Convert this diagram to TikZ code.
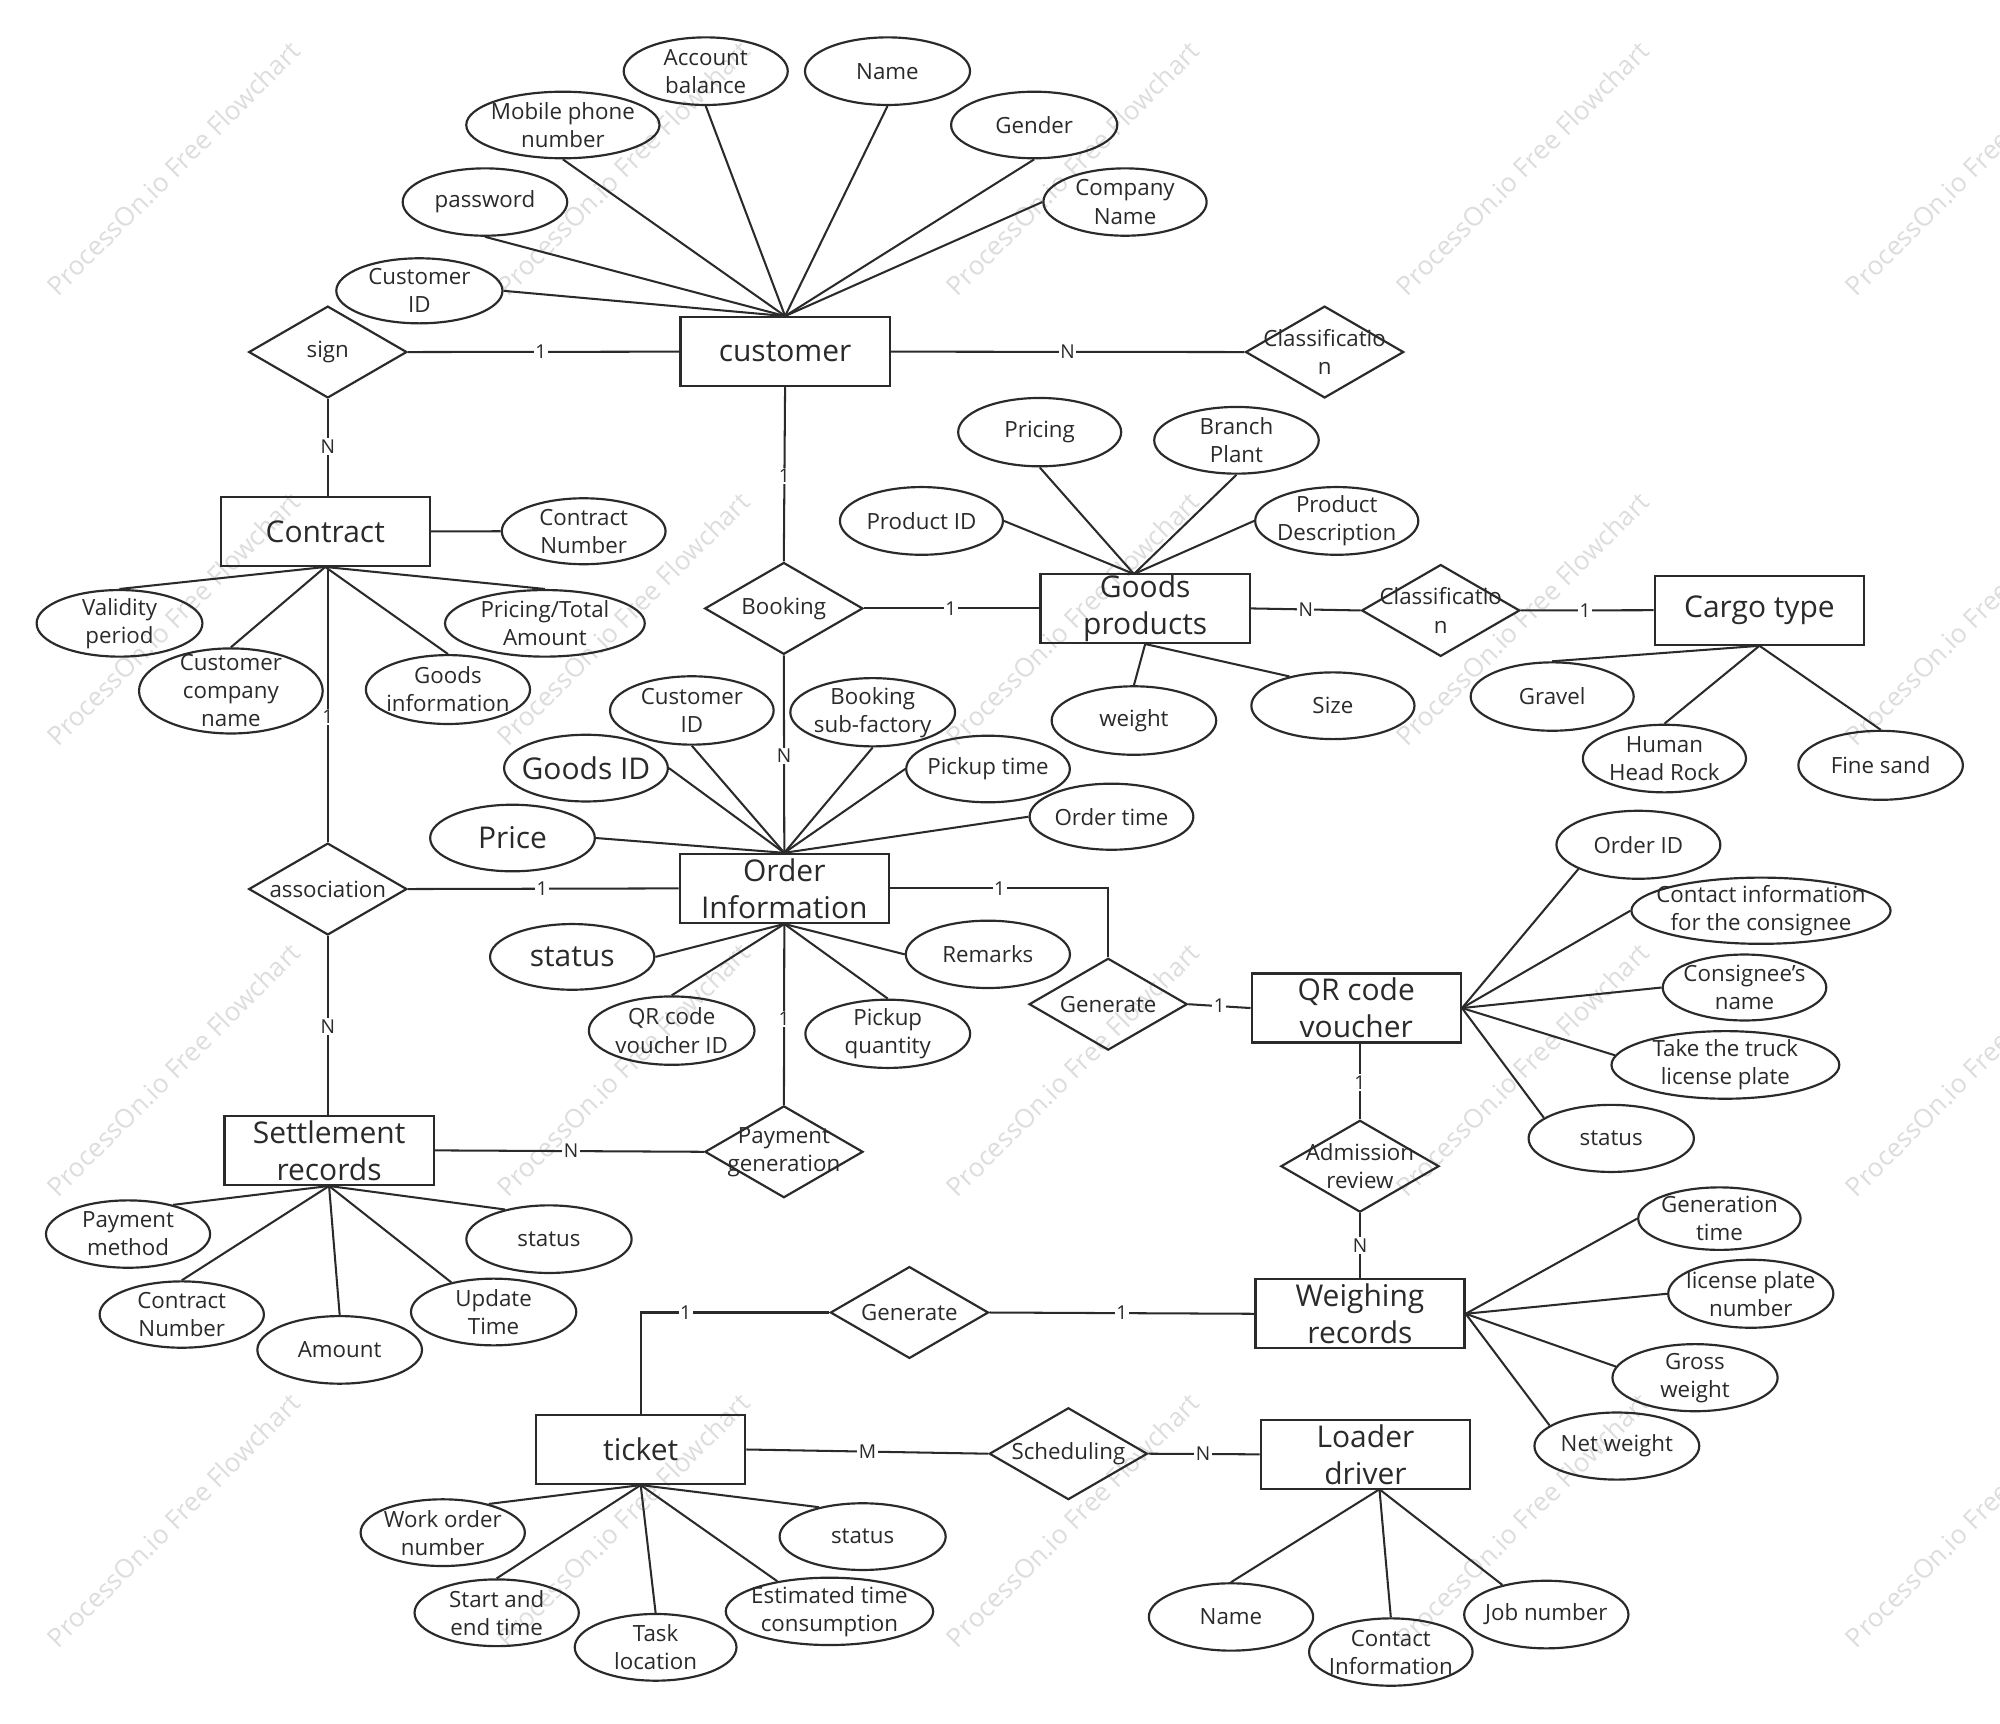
\documentclass[tikz,border=0pt]{standalone}
\usepackage{fontspec}
\setmainfont{Open Sans}
\usetikzlibrary{shapes.geometric}
\definecolor{ink}{HTML}{2A2A2A}
\definecolor{wm}{HTML}{DDDDDD}
\newcommand{\ftbig}{\fontsize{23.5}{29}\selectfont}
\newcommand{\mkattr}[5]{%
  \node[attrshape, minimum width=#3pt, minimum height=#4pt] (#1) at (#2) {};
  \node[attrtext] at (#1.center) {#5};}
\newcommand{\mkent}[3]{%
  \node[entshape] (#1) at (#2) {};
  \node[enttext] at (#1.center) {#3};}
\newcommand{\mkrel}[3]{%
  \node[relshape] (#1) at (#2) {};
  \node[attrtext] at (#1.center) {#3};}
\begin{document}
\begin{tikzpicture}[x=1pt,y=-1pt,
  attrshape/.style={ellipse, draw=ink, line width=1.7pt, inner sep=0pt},
  entshape/.style={rectangle, draw=ink, line width=1.8pt, minimum width=164pt, minimum height=54pt, inner sep=0pt},
  relshape/.style={diamond, draw=ink, line width=1.7pt, minimum width=124pt, minimum height=72pt, inner sep=0pt},
  attrtext/.style={text=ink, align=center, inner sep=0pt, font=\fontsize{17.5}{22}\selectfont},
  enttext/.style={text=ink, align=center, inner sep=0pt, font=\fontsize{23.5}{29}\selectfont},
  lbl/.style={fill=white, text=ink, inner sep=1.2pt, font=\fontsize{15}{17}\selectfont},
  con/.style={draw=ink, line width=1.6pt},
  wmstyle/.style={text=wm, font=\fontsize{20.5}{22}\selectfont, rotate=45, inner sep=0pt}]
\useasboundingbox (0,0) rectangle (1568,1351);
\fill[white] (0,0) rectangle (1568,1351);
% watermark
\foreach \i in {0,...,4}{
  \foreach \j in {0,...,3}{
    \node[wmstyle] (wm\i\j) at ({136+352.5*\i},{132+353.3*\j}) {ProcessOn.io Free Flowchart};
  }
}
% entities
\mkent{cust}{615.5,275.7}{customer}
\mkent{contract}{255,416.6}{Contract}
\mkent{goods}{897.8,477}{Goods\\products}
\mkent{cargo}{1379.4,478.4}{Cargo type}
\mkent{order}{614.9,696.5}{Order\\Information}
\mkent{qr}{1063.3,790.3}{QR code\\voucher}
\mkent{weigh}{1066.2,1030}{Weighing\\records}
\mkent{settle}{258,901.9}{Settlement\\records}
\mkent{ticket}{502.3,1136.4}{ticket}
\mkent{loader}{1070.5,1140.2}{Loader\\driver}
% relationships
\mkrel{sign}{257,276}{sign}
\mkrel{classA}{1038.5,276}{Classificatio\\n}
\mkrel{booking}{614.5,477}{Booking}
\mkrel{classB}{1129.5,478.6}{Classificatio\\n}
\mkrel{assoc}{257,697}{association}
\mkrel{genA}{868.8,787.3}{Generate}
\mkrel{adm}{1066.2,914.3}{Admission\\review}
\mkrel{paygen}{614.6,903}{Payment\\generation}
\mkrel{genB}{713,1029}{Generate}
\mkrel{sched}{837.6,1139.7}{Scheduling}
% customer attributes
\mkattr{aAcct}{553.3,55.8}{128.6}{53}{Account\\balance}
\mkattr{aName}{695.8,55.8}{129.4}{53}{Name}
\mkattr{aMobile}{441.3,98}{151.5}{52.2}{Mobile phone\\number}
\mkattr{aGender}{810.8,98}{130.3}{52.2}{Gender}
\mkattr{aPwd}{380.2,158.4}{129}{52.8}{password}
\mkattr{aComp}{882,158.4}{128}{52.8}{Company\\Name}
\mkattr{aCid}{328.8,228}{130.3}{51}{Customer\\ID}
% contract attributes
\mkattr{cNum}{457.6,416.5}{128.4}{51.7}{Contract\\Number}
\mkattr{cValid}{93.7,488.7}{130}{52.2}{Validity\\period}
\mkattr{cCcn}{181,541.7}{144}{66.7}{Customer\\company\\name}
\mkattr{cGoods}{351.2,540.6}{128.7}{54}{Goods\\information}
\mkattr{cPrice}{427.2,488.7}{156.6}{52.2}{Pricing/Total\\Amount}
% goods attributes
\mkattr{gPricing}{815.1,338.8}{127.8}{53.6}{Pricing}
\mkattr{gBranch}{969.4,345.2}{129}{52.3}{Branch\\Plant}
\mkattr{gPid}{722.4,408.4}{127.8}{53.1}{Product ID}
\mkattr{gDesc}{1048,408.4}{127.9}{53.1}{Product\\Description}
\mkattr{gWeight}{889,564.9}{129}{53.7}{weight}
\mkattr{gSize}{1045,553.3}{127.9}{52.3}{Size}
% cargo attributes
\mkattr{tGravel}{1216.9,546.1}{127.8}{53.6}{Gravel}
\mkattr{tHuman}{1304.9,594.7}{127.9}{53}{Human\\Head Rock}
\mkattr{tFine}{1474.4,600}{129}{54.1}{Fine sand}
% order attributes
\mkattr{oCid}{542.4,557}{128.3}{53.6}{Customer\\ID}
\mkattr{oBook}{684.2,558.4}{129.2}{53.5}{Booking\\sub-factory}
\mkattr{oGid}{459.4,602.2}{128.4}{52.3}{\ftbig Goods ID}
\mkattr{oPick}{774.6,602.9}{128.3}{52.2}{Pickup time}
\mkattr{oPrice}{401.8,657}{129.1}{52.2}{\ftbig Price}
\mkattr{oOtime}{871.4,640.3}{128.4}{51.8}{Order time}
\mkattr{oStatus}{448.6,750.2}{128.8}{51.5}{\ftbig status}
\mkattr{oRem}{774.5,748.2}{128.7}{52.8}{Remarks}
\mkattr{oQrid}{526.6,808}{129.9}{53.6}{QR code\\voucher ID}
\mkattr{oPqty}{696,810.5}{129.2}{53.5}{Pickup\\quantity}
% QR attributes
\mkattr{qOid}{1284.5,662.3}{128.5}{53.3}{Order ID}
\mkattr{qContact}{1380.6,714}{203.2}{51.9}{Contact information\\for the consignee}
\mkattr{qCname}{1367.7,774.2}{128.2}{51.7}{Consignee's\\name}
\mkattr{qTruck}{1352.7,834.9}{178.6}{53}{Take the truck\\license plate}
\mkattr{qStatus}{1263.2,892.5}{129.6}{52.6}{status}
% weighing attributes
\mkattr{wGen}{1348,955.4}{127.3}{49}{Generation\\time}
\mkattr{wLic}{1372.6,1014.3}{129.5}{53.3}{license plate\\number}
\mkattr{wGross}{1328.9,1080.1}{129.5}{52.6}{Gross\\weight}
\mkattr{wNet}{1267.6,1133.7}{129.2}{52.6}{Net weight}
% settlement attributes
\mkattr{sPay}{100.4,967.5}{128.7}{52.8}{Payment\\method}
\mkattr{sCnum}{142.5,1030.6}{128.8}{52}{Contract\\Number}
\mkattr{sAmt}{266.3,1058.3}{129.1}{53}{Amount}
\mkattr{sUpd}{387,1028.6}{129.6}{52.3}{Update\\Time}
\mkattr{sStatus}{430.4,971.5}{129.6}{53}{status}
% ticket attributes
\mkattr{kWork}{347.1,1201.6}{128.8}{52.3}{Work order\\number}
\mkattr{kStart}{389.4,1264.4}{128.8}{52.3}{Start and\\end time}
\mkattr{kTask}{514,1291.5}{126.8}{52.3}{Task\\location}
\mkattr{kEst}{650.3,1263.3}{162.6}{52.8}{Estimated time\\consumption}
\mkattr{kStatus}{676.3,1204.7}{130.2}{52.3}{status}
% loader attributes
\mkattr{dName}{965.1,1267.7}{128.8}{52.8}{Name}
\mkattr{dContact}{1090.4,1295.2}{128.2}{52.8}{Contact\\Information}
\mkattr{dJob}{1212.3,1265.8}{128.8}{53}{Job number}
% helper coordinates
\coordinate (goodsTop) at (889,450);
\coordinate (loaderBot) at (1081.5,1167.6);
% relationship connectors
\draw[con] (sign.east) -- (cust.west) node[lbl, pos=0.49] {1};
\draw[con] (cust.east) -- (classA.west) node[lbl, pos=0.5] {N};
\draw[con] (sign.south) -- (sign.south |- contract.north) node[lbl, pos=0.49] {N};
\draw[con] (cust.south) -- (booking.north) node[lbl, pos=0.51] {1};
\draw[con] (assoc.north |- contract.south) -- (assoc.north) node[lbl, pos=0.545] {1};
\draw[con] (booking.east) -- (goods.west) node[lbl, pos=0.495] {1};
\draw[con] (booking.south) -- (order.north) node[lbl, pos=0.51] {N};
\draw[con] (goods.east) -- (classB.west) node[lbl, pos=0.5] {N};
\draw[con] (classB.east) -- (cargo.west) node[lbl, pos=0.483] {1};
\draw[con] (assoc.east) -- (order.west) node[lbl, pos=0.496] {1};
\draw[con] (assoc.south) -- (assoc.south |- settle.north) node[lbl, pos=0.507] {N};
\draw[con] (order.east) -| (genA.north) node[lbl, pos=0.251] {1};
\draw[con] (genA.east) -- (qr.west) node[lbl, pos=0.5] {1};
\draw[con] (order.south) -- (paygen.north) node[lbl, pos=0.525] {1};
\draw[con] (paygen.west) -- (settle.east) node[lbl, pos=0.493] {N};
\draw[con] (adm.north) -- (adm.north |- qr.south) node[lbl, pos=0.486] {1};
\draw[con] (adm.south) -- (weigh.north) node[lbl, pos=0.495] {N};
\draw[con] (genB.east) -- (weigh.west) node[lbl, pos=0.5] {1};
\draw[con] (genB.west) -| (ticket.north) node[lbl, pos=0.381] {1};
\draw[con] (ticket.east) -- (sched.west) node[lbl, pos=0.501] {M};
\draw[con] (sched.east) -- (loader.west) node[lbl, pos=0.49] {N};
% attribute connectors
\foreach \a in {aCid.east, aPwd.south, aMobile.south, aAcct.south, aName.south, aGender.south, aComp.west}
  \draw[con] (\a) -- (cust.north);
\draw[con] (contract.east) -- (cNum.west);
\foreach \a in {cValid.north, cCcn.north, cGoods.north, cPrice.north}
  \draw[con] (\a) -- (contract.south);
\foreach \a in {gPricing.south, gBranch.south, gPid.east, gDesc.west}
  \draw[con] (\a) -- (goodsTop);
\draw[con] (gWeight.north) -- (goods.south);
\draw[con] (gSize.146) -- (goods.south);
\foreach \a in {tGravel.north, tHuman.north, tFine.north}
  \draw[con] (\a) -- (cargo.south);
\foreach \a in {oCid.south, oBook.south, oGid.east, oPick.west, oPrice.east, oOtime.west}
  \draw[con] (\a) -- (order.north);
\foreach \a in {oStatus.east, oQrid.north, oPqty.north, oRem.west}
  \draw[con] (\a) -- (order.south);
\foreach \a in {qOid.202, qContact.west, qCname.west, qTruck.175, qStatus.163}
  \draw[con] (\a) -- (qr.east);
\foreach \a in {wGen.west, wLic.west, wGross.172, wNet.163}
  \draw[con] (\a) -- (weigh.east);
\foreach \a in {sPay.33, sCnum.north, sAmt.north, sUpd.145, sStatus.146}
  \draw[con] (\a) -- (settle.south);
\foreach \a in {kWork.32, kStart.north, kTask.north, kEst.150, kStatus.146}
  \draw[con] (\a) -- (ticket.south);
\foreach \a in {dName.north, dContact.north, dJob.146}
  \draw[con] (\a) -- (loaderBot);
\end{tikzpicture}
\end{document}
